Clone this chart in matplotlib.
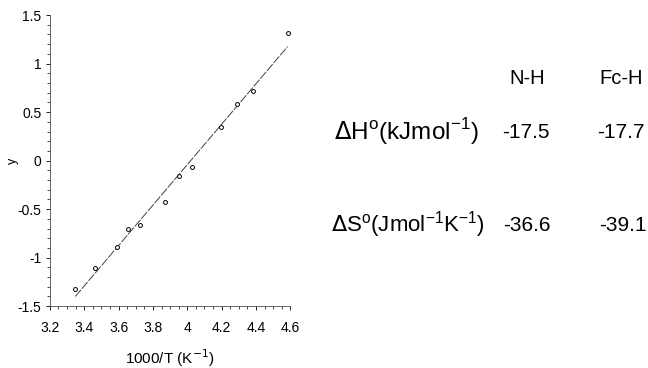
import numpy as np
import matplotlib.pyplot as plt
from matplotlib.ticker import MultipleLocator

plt.rcParams['font.family'] = ['Liberation Sans', 'DejaVu Sans']

# van't Hoff data
inv_T = [3.348, 3.464, 3.589, 3.655, 3.725, 3.869, 3.949, 4.030, 4.198, 4.289, 4.383, 4.584]
y_vals = [-1.32, -1.11, -0.89, -0.70, -0.66, -0.43, -0.16, -0.07, 0.35, 0.58, 0.72, 1.32]
fit_x = [3.348, 4.584]
fit_y = [-1.40, 1.175]

xticks = [3.2, 3.4, 3.6, 3.8, 4.0, 4.2, 4.4, 4.6]
xticklabels = ['3.2', '3.4', '3.6', '3.8', '4', '4.2', '4.4', '4.6']
yticks = [-1.5, -1, -0.5, 0, 0.5, 1, 1.5]
yticklabels = ['-1.5', '-1', '-0.5', '0', '0.5', '1', '1.5']

col_names = ['N-H', 'Fc-H']
dH = ['-17.5', '-17.7']
dS = ['-36.6', '-39.1']

fig = plt.figure(figsize=(6.48, 3.68), dpi=100)
ax = fig.add_axes([0.077, 0.168, 0.371, 0.791])

ax.plot(fit_x, fit_y, color='0.25', lw=0.7, dashes=(9, 1.5))
ax.plot(inv_T, y_vals, 'o', ms=2.8, mfc='white', mec='black', mew=0.7)

ax.set_xlim(3.2, 4.6)
ax.set_ylim(-1.5, 1.5)
ax.set_xticks(xticks)
ax.set_xticklabels(xticklabels)
ax.set_yticks(yticks)
ax.set_yticklabels(yticklabels)
ax.xaxis.set_minor_locator(MultipleLocator(0.05))
ax.yaxis.set_minor_locator(MultipleLocator(0.1))
ax.tick_params(which='major', direction='out', length=3, width=0.6, labelsize=10)
ax.tick_params(which='minor', direction='out', length=2, width=0.5)
ax.tick_params(axis='x', pad=8)
ax.tick_params(axis='y', pad=3)
for s in ['top', 'right']:
    ax.spines[s].set_visible(False)
for s in ['left', 'bottom']:
    ax.spines[s].set_linewidth(0.6)
    ax.spines[s].set_color('0.3')

ax.set_ylabel('y', fontsize=9)
ax.yaxis.set_label_coords(-0.13, 0.5)
ax.set_xlabel('1000/T (K$^{-1}$)', fontsize=11)
ax.xaxis.set_label_coords(0.5, -0.14)

# table of thermodynamic values
fig.text(527/648, 1 - 79/368, col_names[0], fontsize=14.5, ha='center', va='center')
fig.text(621/648, 1 - 79/368, col_names[1], fontsize=14.5, ha='center', va='center')
fig.text(334/648, 1 - 132/368, r'$\Delta$H$^\mathregular{o}$(kJmol$^\mathregular{-1}$)',
         fontsize=17.5, ha='left', va='center')
fig.text(331/648, 1 - 225/368, r'$\Delta$S$^\mathregular{o}$(Jmol$^\mathregular{-1}$K$^\mathregular{-1}$)',
         fontsize=16, ha='left', va='center')
fig.text(526/648, 1 - 133/368, dH[0], fontsize=15, ha='center', va='center')
fig.text(621/648, 1 - 133/368, dH[1], fontsize=15, ha='center', va='center')
fig.text(527/648, 1 - 226/368, dS[0], fontsize=15, ha='center', va='center')
fig.text(623/648, 1 - 226/368, dS[1], fontsize=15, ha='center', va='center')

fig.savefig('out.png', dpi=100)
